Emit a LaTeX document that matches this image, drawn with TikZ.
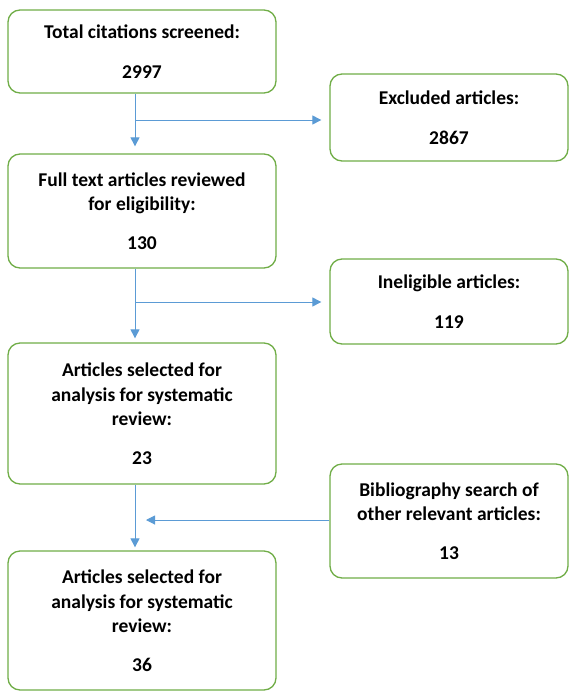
\documentclass[tikz,border=0pt]{standalone}
\usepackage{fontspec}
\setmainfont{Carlito}
\usetikzlibrary{arrows.meta, positioning, calc}
\definecolor{boxgreen}{RGB}{112,173,71}
\definecolor{flowblue}{RGB}{91,155,213}
\tikzset{
    stage/.style = {rectangle, rounded corners=12pt, draw=boxgreen, line width=1.3pt, fill=white,
                    align=center, inner sep=2pt, font=\bfseries\fontsize{19.5}{24.5}\selectfont}, % boxes of the main column
    leftbox/.style = {stage, minimum width=268pt},
    rightbox/.style = {stage, minimum width=238pt},
    flow/.style = {draw=flowblue, line width=1pt, -{Triangle[length=9pt,width=9pt]}}
}

\begin{document}
\begin{tikzpicture}[x=1pt, y=-1pt]
    \useasboundingbox (0,0) rectangle (569,691);
    % main column
    \node [leftbox, minimum height=83pt] (total) at (142,51.5) {Total citations screened:\\[15pt] 2997};
    \node [leftbox, minimum height=114pt] (full) at (142,211) {Full text articles reviewed\\ for eligibility:\\[14pt] 130};
    \node [leftbox, minimum height=141pt] (sel) at (142,413.5) {Articles selected for\\ analysis for systematic\\ review:\\[14pt] 23};
    \node [leftbox, minimum height=139pt] (final) at (142,620.5) {Articles selected for\\ analysis for systematic\\ review:\\[14pt] 36};
    % side boxes
    \node [rightbox, minimum height=87pt] (excl) at (449,117.5) {Excluded articles:\\[15pt] 2867};
    \node [rightbox, minimum height=85pt] (inel) at (449,301.5) {Ineligible articles:\\[15pt] 119};
    \node [rightbox, minimum height=114pt] (bib) at (449,521) {Bibliography search of\\ other relevant articles:\\[14pt] 13};
    % connectors
    \coordinate (s1) at (135,120);
    \coordinate (s2) at (135,302);
    \coordinate (s3) at (146,520);
    \draw [flow, shorten >=7pt] (total.south -| s1) -- (full.north -| s1);
    \draw [flow, shorten >=8pt] (s1) -- (s1 -| excl.west);
    \draw [flow, shorten >=4pt] (full.south -| s2) -- (sel.north -| s2);
    \draw [flow, shorten >=8pt] (s2) -- (s2 -| inel.west);
    \draw [flow, shorten >=3pt] (sel.south -| s1) -- (final.north -| s1);
    \draw [flow] (s3 -| bib.west) -- (s3);
\end{tikzpicture}
\end{document}
